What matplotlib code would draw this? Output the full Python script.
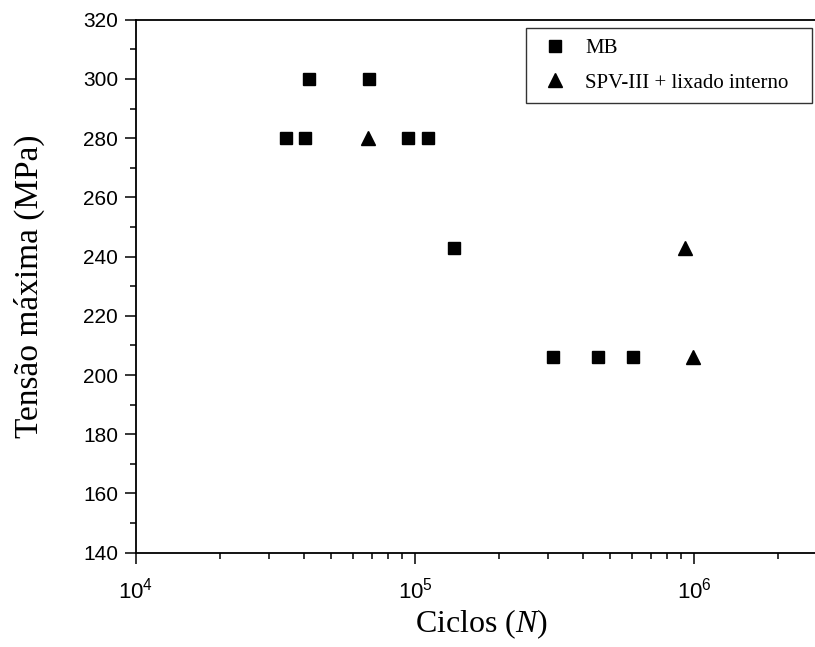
import matplotlib
matplotlib.use('Agg')
import matplotlib.pyplot as plt
import matplotlib.ticker as mticker
import numpy as np

# ----------------------------------------------------------------------------------------------------------------------
#  DATA
# ----------------------------------------------------------------------------------------------------------------------

mb_cycles = [34500, 40300, 41700, 68400, 94600, 111600, 138000, 312000, 453000, 604000]
mb_stress = [280, 280, 300, 300, 280, 280, 243, 206, 206, 206]

spv_cycles = [68000, 930000, 990000]
spv_stress = [280, 243, 206]

x_ticks = [1e4, 1e5, 1e6]
x_tick_labels = [r'$\mathregular{10^{4}}$', r'$\mathregular{10^{5}}$', r'$\mathregular{10^{6}}$']
y_ticks = [140, 160, 180, 200, 220, 240, 260, 280, 300, 320]

# ----------------------------------------------------------------------------------------------------------------------
#  PLOT
# ----------------------------------------------------------------------------------------------------------------------

plt.rcParams['font.family'] = ['Liberation Sans', 'DejaVu Sans']
plt.rcParams['mathtext.default'] = 'regular'
plt.rcParams['mathtext.fontset'] = 'custom'
plt.rcParams['mathtext.rm'] = 'Liberation Serif'
plt.rcParams['mathtext.it'] = 'Liberation Serif:italic'

W, H = 815, 647
fig = plt.figure(figsize=(W / 100, H / 100), dpi=100)

# axes run past the right edge of the picture (xlim up to 3e6)
x0, y0, y1 = 136, 552.7, 19.7
decade_px = 279.0
x_max = 3e6
ax_w = decade_px * np.log10(x_max / 1e4)
ax = fig.add_axes([x0 / W, (H - y0) / H, ax_w / W, (y0 - y1) / H])

ax.plot(mb_cycles, mb_stress, linestyle='none', marker='s', markersize=8.5,
        color='black', label='MB')
ax.plot(spv_cycles, spv_stress, linestyle='none', marker='^', markersize=10,
        color='black', label='SPV-III + lixado interno')

ax.set_xscale('log')
ax.set_xlim(1e4, x_max)
ax.set_ylim(140, 320)

ax.set_xticks(x_ticks)
ax.set_xticklabels(x_tick_labels)
ax.xaxis.set_minor_locator(mticker.LogLocator(base=10, subs=np.arange(2, 10)))
ax.xaxis.set_minor_formatter(mticker.NullFormatter())
ax.set_yticks(y_ticks)
ax.yaxis.set_minor_locator(mticker.MultipleLocator(10))

ax.tick_params(which='major', direction='out', length=8, width=1.1, labelsize=15, pad=5,
               top=False, right=False)
ax.tick_params(axis='x', which='major', labelsize=16, pad=10)
ax.tick_params(which='minor', direction='out', length=4, width=1.1, top=False, right=False)
for side in ['left', 'bottom', 'top']:
    ax.spines[side].set_linewidth(1.3)
ax.spines['right'].set_visible(False)

ax.set_xlabel(r'Ciclos ($\mathit{N}$)', family='Liberation Serif', fontsize=23, labelpad=3)
ax.set_ylabel('Tensão máxima (MPa)', family='Liberation Serif', fontsize=24, labelpad=27)

leg = ax.legend(loc='upper left', bbox_to_anchor=(526 / W, (H - 97) / H, 286 / W, 69 / H),
                bbox_transform=fig.transFigure, mode='expand',
                prop={'family': 'Liberation Serif', 'size': 15},
                frameon=True, fancybox=False, edgecolor='black', handlelength=1.8,
                handletextpad=0.55, borderpad=0.5, labelspacing=0.72, borderaxespad=0)
leg.get_frame().set_linewidth(1.0)

fig.savefig('out.png', dpi=100)
